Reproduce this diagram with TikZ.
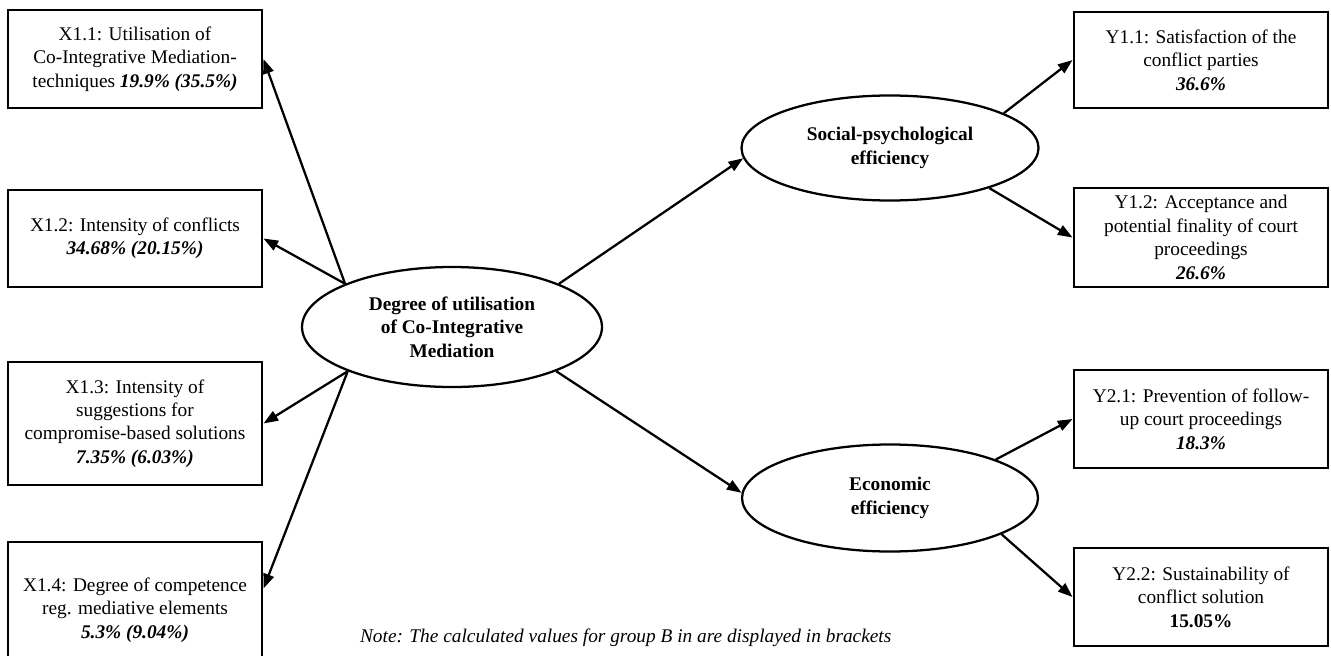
\documentclass[tikz,border=0pt]{standalone}
\usepackage{fontspec}
\setmainfont{Liberation Serif}
\usetikzlibrary{shapes,arrows.meta,positioning}
\def \px {0.75pt}
\newcommand{\boxfont}{\fontsize{14.5}{17.6}\selectfont}
\newcommand{\val}[1]{\textbf{\textit{#1}}}
\tikzstyle{indicator} = [draw,line width=2.2pt,rectangle,inner sep=0,minimum width=254*\px,align=center,font=\boxfont]
\tikzstyle{construct} = [draw,line width=1.7pt,ellipse,inner sep=0,align=center,font=\boxfont\bfseries]
\tikzstyle{link} = [-{Triangle[length=11pt,width=8pt]},line width=1.7pt]

\begin{document}
\begin{tikzpicture}[x=\px,y=-\px]
  \useasboundingbox (0,0) rectangle (1331,656);
  \clip (0,0) rectangle (1331,656);
  % latent constructs
  \node[construct,minimum width=300*\px,minimum height=120*\px] (deg) at (452,327) {Degree of utilisation\\of Co-Integrative\\Mediation};
  \node[construct,minimum width=297*\px,minimum height=105*\px] (soc) at (890,148) {Social-psychological\\efficiency};
  \node[construct,minimum width=296*\px,minimum height=107*\px] (eco) at (890,498) {Economic\\efficiency};
  % indicators X
  \node[indicator,minimum height=98*\px] (x11) at (135,59) {X1.1: Utilisation of\\Co-Integrative Mediation-\\techniques \val{19.9\% (35.5\%)}};
  \node[indicator,minimum height=97*\px] (x12) at (135,238.5) {X1.2: Intensity of conflicts\\\val{34.68\% (20.15\%)}};
  \node[indicator,minimum height=123*\px] (x13) at (135,423.5) {X1.3: Intensity of\\suggestions for\\compromise-based solutions\\\val{7.35\% (6.03\%)}};
  \node[indicator,minimum height=136*\px] (x14) at (135,610) {X1.4: Degree of competence\\reg. mediative elements\\\val{5.3\% (9.04\%)}};
  % indicators Y
  \node[indicator,minimum height=96*\px] (y11) at (1201,60) {Y1.1: Satisfaction of the\\conflict parties\\\val{36.6\%}};
  \node[indicator,minimum height=99*\px] (y12) at (1201,237.5) {Y1.2: Acceptance and\\potential finality of court\\proceedings\\\val{26.6\%}};
  \node[indicator,minimum height=98*\px] (y21) at (1201,419) {Y2.1: Prevention of follow-\\up court proceedings\\\val{18.3\%}};
  \node[indicator,minimum height=98*\px] (y22) at (1201,597) {Y2.2: Sustainability of\\conflict solution\\\textbf{15.05\%}};
  \node[font=\boxfont\itshape,anchor=east] (note) at (896,638) {Note: The calculated values for group B in are displayed in brackets};
  % arrows
  \draw[link] (deg.158) -- (x11.east);
  \draw[link] (deg.158) -- (x12.east);
  \draw[link] (deg.203) -- (x13.east);
  \draw[link] (deg.203) -- ([yshift=-48*\px]x14.north east);
  \draw[link] (deg.22) -- (soc.184);
  \draw[link] (deg.-23) -- (eco.178);
  \draw[link] (soc.17) -- (y11.west);
  \draw[link] (soc.-22) -- (y12.west);
  \draw[link] (eco.20) -- (y21.west);
  \draw[link] (eco.-18) -- (y22.west);
\end{tikzpicture}
\end{document}
